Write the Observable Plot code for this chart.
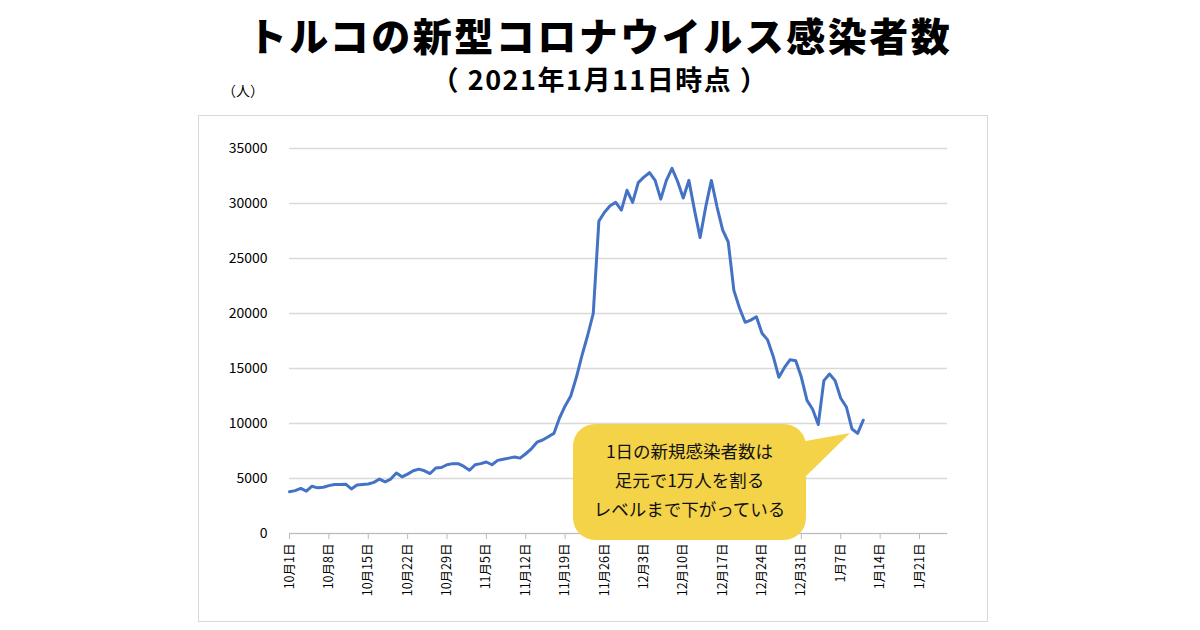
<!DOCTYPE html>
<html><head><meta charset="utf-8">
<script src="https://cdn.jsdelivr.net/npm/d3@7"></script>
<script src="https://cdn.jsdelivr.net/npm/@observablehq/plot@0.6"></script>
<style>
body{margin:0;width:1200px;height:630px;background:#fff;font-family:"Noto Sans CJK JP",sans-serif;position:relative;overflow:hidden}
#title{position:absolute;left:0;width:1200px;top:14px;text-align:center;font-size:39px;line-height:40px;font-weight:900;color:#000;letter-spacing:2.5px}
#sub{position:absolute;left:0;width:1200px;top:64px;text-align:center;font-size:27px;line-height:30px;font-weight:700;letter-spacing:1.5px}
#unit{position:absolute;left:222px;top:80px;font-size:14px}
#frame{position:absolute;left:198px;top:115px;width:790px;height:507px;border:1px solid #d9d9d9;box-sizing:border-box}
#chart{position:absolute;left:198px;top:115px}
#note{position:absolute;left:573px;top:424px;width:233px;height:116px;background:#f5d348;border-radius:22px;box-sizing:border-box;padding-top:12px;text-align:center;font-size:17.5px;line-height:29px;color:#111}
#ptr{position:absolute;left:0;top:0}
</style></head><body>
<div id="title">トルコの新型コロナウイルス感染者数</div>
<div id="sub">（ 2021年1月11日時点 ）</div>
<div id="unit">（人）</div>
<div id="frame"></div>
<div id="chart"></div>
<svg id="ptr" width="1200" height="630"><polygon points="800,442 800,482 850,433" fill="#f5d348"/></svg>
<div id="note">1日の新規感染者数は<br>足元で1万人を割る<br>レベルまで下がっている</div>
<script>
const startDate = "2020-10-01";
const cases = [3800,3900,4100,3850,4300,4150,4200,4350,4450,4450,4480,
4050,4400,4450,4500,4650,4950,4700,4950,5500,5150,5400,5700,5850,5700,5450,5950,6000,6250,6350,6350,6100,5750,6250,6350,6500,6250,6650,6750,6850,6950,6850,7250,7700,8300,8500,8800,9100,
10500,11600,12500,14200,16200,18000,20000,
28400,29200,29800,30100,29400,31200,30100,31900,32400,32800,32100,30400,32100,33200,32000,30500,32100,29400,26900,29700,32100,29700,27600,26500,22100,20500,19200,19400,19700,18200,17600,16100,14200,15100,15800,15700,14200,12100,11300,9900,13900,14500,13900,12300,11500,9500,9100,10300];
const xTicks = ["2020-10-01","2020-10-08","2020-10-15","2020-10-22","2020-10-29","2020-11-05","2020-11-12","2020-11-19","2020-11-26","2020-12-03","2020-12-10","2020-12-17","2020-12-24","2020-12-31","2021-01-07","2021-01-14","2021-01-21"];
const yTicks = [0,5000,10000,15000,20000,25000,30000,35000];

const t0 = new Date(startDate + "T00:00:00Z");
const data = cases.map((v,i)=>({date:new Date(t0.getTime()+i*86400000), v}));
const tickDates = xTicks.map(s=>new Date(s+"T00:00:00Z"));
const fmt = d => `${d.getUTCMonth()+1}月${d.getUTCDate()}日`;

const chart = Plot.plot({
  width:790, height:507,
  marginLeft:91, marginRight:69, marginTop:33, marginBottom:89,
  style:{fontFamily:"'Noto Sans CJK JP', sans-serif", fontSize:"13px", color:"#000"},
  x:{type:"utc", domain:[tickDates[0], tickDates[tickDates.length-1]], label:null},
  y:{domain:[0,35000], label:null},
  marks:[
    Plot.gridY(yTicks,{stroke:"#d9d9d9", strokeOpacity:1, strokeWidth:1.5, x1:tickDates[0], x2:new Date("2021-01-26T00:00:00Z")}),
    Plot.axisX({ticks:tickDates, tickFormat:fmt, tickRotate:-90, tickSize:6, tickPadding:4, stroke:"#bbb", fontSize:12.5}),
    Plot.ruleY([0],{stroke:"#bbb", x1:tickDates[0], x2:new Date("2021-01-26T00:00:00Z")}),
    Plot.axisY({ticks:yTicks, tickFormat:d=>String(d), tickSize:0, tickPadding:22, fontSize:14}),
    Plot.line(data,{x:"date", y:"v", stroke:"#4472c4", strokeWidth:3})
  ]
});
document.getElementById("chart").appendChild(chart);
</script>
</body></html>
